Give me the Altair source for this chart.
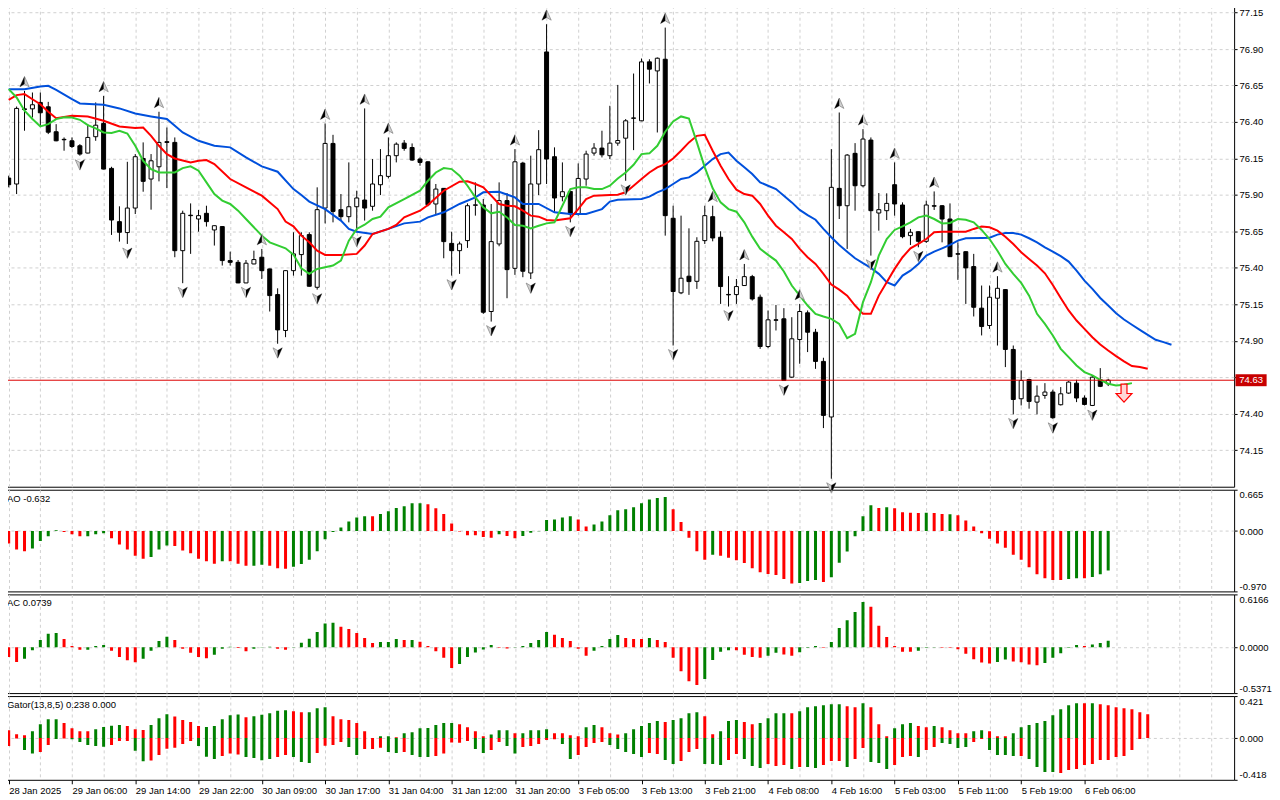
import json
import altair as alt
import pandas as pd

# ---------------- data ----------------
opens = [
76.016, 75.975, 76.490, 76.490, 76.534, 76.504, 76.333, 76.281, 76.271, 76.237,
76.187, 76.299, 76.390, 76.082, 75.717, 75.642, 75.810, 76.150, 76.009, 76.093,
76.265, 76.260, 75.518, 75.761, 75.735, 75.774, 75.660, 75.683, 75.450, 75.438,
75.297, 75.427, 75.473, 75.393, 75.217, 74.971, 75.381, 75.491, 75.628, 75.267,
75.810, 76.253, 75.799, 75.751, 75.819, 75.865, 75.822, 75.970, 76.027, 76.169,
76.255, 76.225, 76.146, 76.127, 75.838, 75.945, 75.568, 75.518, 75.587, 75.829,
75.831, 75.101, 75.564, 75.861, 75.397, 76.118, 75.365, 75.975, 76.880, 76.162,
75.888, 75.924, 75.769, 76.009, 76.187, 76.221, 76.169, 76.255, 76.289, 76.425,
76.408, 76.812, 76.750, 76.830, 75.740, 75.229, 75.343, 75.308, 75.587, 75.751,
75.610, 75.218, 75.217, 75.279, 75.340, 75.199, 74.861, 75.044, 75.051, 74.651,
74.909, 75.092, 74.959, 74.759, 74.378, 75.945, 75.826, 76.185, 75.963, 76.276,
75.776, 75.792, 75.970, 75.831, 75.621, 75.648, 75.582, 75.826, 75.826, 75.735,
75.497, 75.511, 75.409, 75.124, 75.005, 75.192, 75.251, 74.841, 74.503, 74.635,
74.480, 74.526, 74.549, 74.462, 74.542, 74.610, 74.508, 74.457, 74.633, 74.605]

highs = [
76.032, 76.506, 76.613, 76.602, 76.602, 76.538, 76.385, 76.294, 76.294, 76.248,
76.385, 76.534, 76.579, 76.093, 75.822, 76.127, 76.180, 76.260, 76.180, 76.470,
76.362, 76.294, 75.792, 75.842, 75.797, 75.826, 75.690, 75.686, 75.511, 75.454,
75.454, 75.518, 75.530, 75.395, 75.260, 75.383, 75.644, 75.644, 75.644, 75.952,
76.390, 76.312, 75.906, 76.123, 75.929, 76.493, 76.146, 76.214, 76.294, 76.260,
76.276, 76.253, 76.157, 76.130, 75.975, 75.947, 75.648, 75.580, 75.842, 75.986,
75.872, 75.838, 75.986, 75.913, 76.214, 76.127, 76.169, 76.344, 77.070, 76.226,
76.123, 75.929, 76.116, 76.203, 76.255, 76.340, 76.511, 76.654, 76.420, 76.732,
76.835, 76.830, 76.842, 77.047, 75.826, 75.758, 75.671, 75.610, 75.826, 75.826,
75.651, 75.343, 75.324, 75.427, 75.352, 75.217, 75.108, 75.146, 75.124, 75.062,
75.153, 75.108, 74.982, 74.784, 76.214, 76.465, 76.180, 76.255, 76.351, 76.294,
75.913, 75.911, 76.123, 75.849, 75.667, 75.650, 75.861, 75.924, 75.830, 75.842,
75.575, 75.513, 75.496, 75.279, 75.279, 75.343, 75.255, 74.868, 74.697, 74.640,
74.594, 74.610, 74.565, 74.583, 74.624, 74.633, 74.526, 74.663, 74.713, 74.640]

lows = [
75.952, 75.906, 76.340, 76.431, 76.374, 76.317, 76.268, 76.203, 76.221, 76.169,
76.185, 76.271, 76.075, 75.626, 75.580, 75.564, 75.769, 75.922, 75.799, 75.993,
75.947, 75.473, 75.295, 75.496, 75.648, 75.683, 75.553, 75.416, 75.416, 75.295,
75.295, 75.425, 75.324, 75.101, 74.880, 74.925, 75.347, 75.347, 75.272, 75.251,
75.705, 75.712, 75.724, 75.712, 75.644, 75.724, 75.792, 75.899, 76.013, 76.123,
76.203, 76.134, 76.100, 75.822, 75.765, 75.466, 75.347, 75.359, 75.537, 75.758,
75.085, 75.032, 75.548, 75.192, 75.352, 75.336, 75.324, 75.899, 75.975, 75.785,
75.856, 75.712, 75.758, 75.963, 76.169, 76.157, 76.146, 76.237, 75.997, 76.207,
76.405, 76.664, 76.328, 75.621, 74.868, 75.220, 75.215, 75.256, 75.564, 75.582,
75.153, 75.135, 75.153, 75.277, 75.176, 74.845, 74.850, 74.971, 74.625, 74.645,
74.743, 74.823, 74.708, 74.302, 73.955, 75.735, 75.530, 75.792, 75.952, 75.484,
75.655, 75.728, 75.758, 75.603, 75.557, 75.541, 75.571, 75.797, 75.575, 75.475,
75.318, 75.153, 75.067, 74.937, 74.982, 74.868, 74.720, 74.396, 74.457, 74.435,
74.396, 74.503, 74.366, 74.457, 74.537, 74.480, 74.457, 74.453, 74.583, 74.590]

closes = [
75.970, 76.493, 76.485, 76.518, 76.463, 76.330, 76.271, 76.278, 76.232, 76.180,
76.294, 76.378, 76.077, 75.728, 75.644, 75.810, 76.162, 75.993, 76.134, 76.260,
76.260, 75.518, 75.774, 75.758, 75.758, 75.717, 75.689, 75.450, 75.438, 75.297,
75.432, 75.457, 75.381, 75.210, 74.975, 75.381, 75.496, 75.621, 75.274, 75.799,
76.253, 75.787, 75.751, 75.819, 75.879, 75.810, 75.975, 76.032, 76.169, 76.248,
76.219, 76.139, 76.123, 75.833, 75.940, 75.580, 75.518, 75.564, 75.826, 75.832,
75.096, 75.580, 75.861, 75.388, 76.127, 75.377, 75.975, 76.210, 76.146, 75.879,
75.922, 75.769, 76.013, 76.180, 76.221, 76.175, 76.255, 76.273, 76.408, 76.428,
76.812, 76.762, 76.837, 75.758, 75.238, 75.329, 75.306, 75.582, 75.758, 75.605,
75.272, 75.215, 75.272, 75.340, 75.187, 74.861, 75.044, 75.041, 74.628, 74.914,
75.101, 74.959, 74.759, 74.389, 75.952, 75.826, 76.173, 75.963, 76.283, 75.792,
75.799, 75.842, 75.838, 75.614, 75.644, 75.582, 75.831, 75.823, 75.735, 75.477,
75.494, 75.400, 75.130, 74.998, 75.199, 75.260, 74.841, 74.498, 74.628, 74.485,
74.521, 74.549, 74.373, 74.537, 74.617, 74.508, 74.464, 74.651, 74.588, 74.630]

# Alligator lines (bar index, price) - already shifted as drawn
jaw = [(0,76.625),(2,76.625),(4,76.643),(5,76.648),(6,76.620),(8,76.556),(9,76.527),(12,76.518),
(14,76.493),(16,76.458),(18,76.438),(20,76.420),(22,76.328),(24,76.271),(26,76.237),(28,76.226),
(30,76.157),(32,76.096),(34,76.059),(36,75.940),(37,75.899),(38,75.854),(40,75.803),(42,75.724),
(43,75.667),(44,75.648),(46,75.632),(48,75.667),(50,75.705),(52,75.717),(53,75.746),(55,75.781),
(57,75.838),(59,75.883),(60,75.918),(62,75.922),(64,75.883),(65,75.838),(67,75.838),(69,75.781),
(71,75.769),(73,75.769),(75,75.803),(76,75.854),(77,75.867),(80,75.872),(81,75.888),(82,75.918),
(83,75.940),(84,75.975),(85,76.009),(86,76.020),(87,76.054),(88,76.100),(89,76.146),(90,76.180),
(91,76.191),(92,76.134),(93,76.089),(94,76.043),(95,75.986),(96,75.963),(97,75.940),(98,75.895),
(99,75.849),(100,75.797),(101,75.762),(102,75.730),(103,75.667),(104,75.610),(105,75.557),(106,75.511),
(107,75.466),(108,75.432),(109,75.400),(110,75.359),(111,75.302),(112,75.279),(113,75.347),(114,75.381),
(115,75.427),(116,75.484),(117,75.511),(118,75.534),(119,75.557),(120,75.587),(121,75.603),(123,75.605),
(124,75.607),(125,75.628),(126,75.639),(127,75.639),(128,75.628),(129,75.603),(130,75.575),(131,75.541),
(132,75.511),(133,75.480),(134,75.443),(135,75.381),(136,75.313),(137,75.256),(138,75.194),(139,75.142),
(140,75.089),(141,75.046),(142,75.010),(143,74.975),(144,74.941),(145,74.907),(146,74.891),(147,74.873)]

teeth = [(0,76.552),(1,76.584),(2,76.591),(3,76.556),(4,76.522),(5,76.470),(6,76.426),(8,76.442),
(10,76.438),(12,76.408),(14,76.369),(16,76.358),(17,76.362),(18,76.305),(19,76.237),(20,76.180),
(21,76.150),(23,76.123),(24,76.134),(25,76.139),(26,76.111),(28,76.009),(30,75.952),(32,75.895),
(34,75.803),(35,75.717),(36,75.685),(37,75.621),(38,75.575),(39,75.518),(40,75.489),(42,75.489),
(44,75.496),(45,75.553),(46,75.632),(48,75.667),(49,75.694),(50,75.746),(52,75.792),(53,75.831),
(55,75.929),(57,75.991),(58,75.993),(59,75.975),(60,75.952),(61,75.895),(62,75.838),(63,75.826),
(64,75.822),(65,75.792),(66,75.758),(67,75.751),(68,75.728),(69,75.724),(71,75.740),(72,75.803),
(73,75.872),(74,75.895),(76,75.899),(77,75.902),(78,75.918),(79,75.963),(80,76.009),(81,76.054),
(82,76.089),(83,76.111),(84,76.150),(85,76.203),(86,76.260),(87,76.305),(88,76.312),(89,76.203),
(90,76.100),(91,76.009),(92,75.936),(93,75.906),(94,75.895),(95,75.838),(96,75.758),(97,75.689),
(98,75.644),(99,75.598),(100,75.530),(101,75.473),(102,75.427),(103,75.359),(104,75.286),(105,75.251),
(106,75.210),(107,75.142),(108,75.085),(109,75.085),(110,75.210),(111,75.302),(112,75.393),(113,75.473),
(114,75.534),(115,75.564),(116,75.598),(117,75.644),(118,75.648),(121,75.648),(122,75.667),(123,75.683),
(124,75.678),(125,75.655),(126,75.614),(127,75.564),(128,75.507),(129,75.461),(130,75.416),(131,75.363),
(132,75.283),(133,75.194),(134,75.108),(135,75.039),(136,74.982),(137,74.925),(138,74.875),(139,74.834),
(140,74.795),(141,74.759),(142,74.727),(143,74.720),(144,74.708)]

lips = [(0,76.625),(1,76.568),(2,76.477),(3,76.420),(4,76.369),(5,76.385),(6,76.420),(7,76.433),
(8,76.431),(9,76.415),(10,76.378),(11,76.356),(12,76.328),(13,76.324),(14,76.340),(15,76.321),
(16,76.237),(17,76.134),(18,76.077),(19,76.054),(21,76.054),(22,76.084),(23,76.096),(24,76.066),
(25,75.986),(26,75.906),(27,75.861),(28,75.838),(29,75.792),(30,75.735),(32,75.621),(33,75.575),
(35,75.534),(36,75.491),(37,75.397),(38,75.359),(39,75.393),(40,75.404),(41,75.416),(42,75.450),
(43,75.587),(44,75.667),(45,75.696),(46,75.735),(47,75.751),(48,75.815),(50,75.872),(52,75.929),
(53,75.997),(54,76.054),(55,76.084),(56,76.077),(57,76.032),(58,75.963),(59,75.883),(60,75.815),
(61,75.774),(62,75.785),(63,75.746),(64,75.694),(65,75.689),(66,75.671),(67,75.689),(68,75.705),
(69,75.712),(70,75.826),(71,75.940),(72,75.952),(73,75.952),(74,75.940),(75,75.940),(76,75.963),
(77,76.013),(78,76.054),(79,76.107),(80,76.180),(81,76.185),(82,76.237),(83,76.333),(84,76.404),
(85,76.438),(86,76.424),(87,76.260),(88,76.089),(89,75.945),(90,75.849),(91,75.803),(92,75.785),
(93,75.712),(94,75.614),(95,75.530),(96,75.489),(97,75.450),(98,75.375),(99,75.279),(100,75.210),
(101,75.142),(102,75.085),(103,75.067),(104,75.051),(105,75.016),(106,74.918),(107,74.948),(108,75.165),
(109,75.302),(110,75.484),(111,75.598),(112,75.660),(113,75.685),(114,75.712),(115,75.746),(116,75.758),
(117,75.735),(118,75.705),(119,75.708),(120,75.735),(121,75.730),(122,75.712),(123,75.660),(124,75.598),
(125,75.518),(126,75.427),(127,75.359),(128,75.297),(129,75.210),(130,75.085),(131,75.016),(132,74.937),
(133,74.845),(134,74.788),(135,74.731),(136,74.686),(137,74.663),(138,74.633),(139,74.606),(140,74.594),
(141,74.599),(142,74.610)]

fractal_up = [2, 12, 19, 32, 40, 45, 48, 64, 68, 83, 89, 93, 100, 105, 108, 112, 117, 125]
fractal_down = [9, 15, 22, 30, 34, 39, 44, 56, 61, 66, 71, 78, 84, 91, 98, 104, 109, 115, 127, 132, 137]

current_price = 74.63
sell_signal = (141, 74.542)

ao_values = [
-0.199, -0.297, -0.324, -0.28, -0.16, -0.084, 0.014, -0.014, -0.052, -0.084,
-0.084, -0.052, -0.035, -0.117, -0.215, -0.297, -0.395, -0.444, -0.417, -0.297,
-0.231, -0.24, -0.313, -0.357, -0.444, -0.487, -0.526, -0.487, -0.487, -0.526,
-0.558, -0.558, -0.542, -0.558, -0.596, -0.607, -0.575, -0.531, -0.46, -0.324,
-0.133, -0.014, 0.057, 0.155, 0.22, 0.237, 0.237, 0.275, 0.319, 0.373,
0.40, 0.449, 0.449, 0.433, 0.368, 0.275, 0.123, -0.005, -0.068, -0.068,
-0.095, -0.106, -0.052, -0.079, -0.117, -0.079, -0.025, -0.003, 0.177, 0.188,
0.22, 0.237, 0.188, 0.074, 0.106, 0.155, 0.253, 0.335, 0.351, 0.384,
0.449, 0.509, 0.531, 0.547, 0.351, 0.144, -0.106, -0.324, -0.46, -0.379,
-0.395, -0.428, -0.471, -0.515, -0.596, -0.662, -0.689, -0.705, -0.771, -0.842,
-0.836, -0.803, -0.787, -0.82, -0.743, -0.509, -0.33, -0.084, 0.237, 0.417,
0.373, 0.384, 0.368, 0.302, 0.295, 0.289, 0.293, 0.29, 0.275, 0.27,
0.253, 0.172, 0.073, -0.035, -0.123, -0.199, -0.27, -0.379, -0.46, -0.58,
-0.695, -0.76, -0.787, -0.787, -0.771, -0.76, -0.76, -0.738, -0.694, -0.632]
ao_colors = list("".join([
    "rrrggggrrr", "gggrrrrrgg", "grrrrrrgrr", "rggrrrgggg", "ggggggrggg",
    "gggrrrrrrr", "rrgrrggggg", "ggrrgggggg", "ggggrrrrrg", "rrrrrrrrrr",
    "gggrgggggg", "rgrrrrgrrg", "rrrrrrrrrr", "rrrrggrggg"]))

ac_values = [
-0.114, -0.173, -0.137, -0.035, 0.082, 0.157, 0.165, 0.094, 0.012, -0.031,
-0.031, 0.012, 0.024, -0.043, -0.114, -0.153, -0.176, -0.137, -0.043, 0.071,
0.122, 0.082, -0.02, -0.067, -0.114, -0.129, -0.09, -0.02, 0.005, -0.01,
-0.047, -0.02, 0.003, 0.004, -0.02, -0.03, 0.002, 0.051, 0.098, 0.176,
0.275, 0.286, 0.239, 0.212, 0.165, 0.106, 0.047, 0.059, 0.059, 0.094,
0.082, 0.082, 0.063, 0.012, -0.047, -0.125, -0.243, -0.196, -0.114, -0.063,
-0.027, 0.024, -0.008, -0.016, 0.002, 0.012, 0.047, 0.082, 0.176, 0.145,
0.106, 0.071, -0.02, -0.102, -0.043, 0.012, 0.094, 0.141, 0.106, 0.094,
0.094, 0.106, 0.082, 0.059, -0.125, -0.282, -0.4, -0.443, -0.373, -0.149,
-0.055, -0.035, -0.035, -0.09, -0.114, -0.125, -0.102, -0.067, -0.086, -0.102,
-0.059, -0.008, 0.012, -0.008, 0.059, 0.224, 0.314, 0.412, 0.529, 0.471,
0.251, 0.118, 0.012, -0.055, -0.055, -0.043, -0.008, 0.001, -0.008, -0.008,
-0.024, -0.078, -0.141, -0.18, -0.192, -0.173, -0.145, -0.169, -0.176, -0.204,
-0.212, -0.184, -0.125, -0.071, -0.008, 0.024, 0.012, 0.031, 0.047, 0.074]
ac_colors = list("".join([
    "rrgggggrrr", "gggrrrrggg", "grrrrrgggr", "rgggrrgggg", "ggrrrrrggg",
    "rgrrrrrggg", "ggrrgggggr", "rrrrggggrr", "rgrrrrrrgg", "ggrrrrggrr",
    "gggrgggggr", "rrrrrgggrr", "rrrrrggrrr", "rgggggrggg"]))

gator_up = [
0.078, 0.038, 0.028, 0.068, 0.139, 0.19, 0.19, 0.15, 0.099, 0.068,
0.068, 0.089, 0.112, 0.123, 0.13, 0.12, 0.089, 0.082, 0.13, 0.2,
0.24, 0.217, 0.18, 0.16, 0.12, 0.112, 0.12, 0.19, 0.23, 0.237,
0.21, 0.22, 0.233, 0.25, 0.274, 0.28, 0.27, 0.26, 0.26, 0.3,
0.31, 0.22, 0.19, 0.18, 0.15, 0.068, 0.002, 0.018, 0.018, 0.008,
0.048, 0.058, 0.099, 0.102, 0.13, 0.15, 0.15, 0.139, 0.109, 0.068,
0.018, 0.035, 0.078, 0.078, 0.048, 0.048, 0.078, 0.078, 0.089, 0.048,
0.048, 0.028, 0.018, 0.109, 0.13, 0.109, 0.048, 0.035, 0.048, 0.089,
0.12, 0.15, 0.17, 0.16, 0.18, 0.2, 0.25, 0.26, 0.22, 0.038,
0.068, 0.17, 0.18, 0.16, 0.139, 0.15, 0.2, 0.25, 0.25, 0.25,
0.27, 0.31, 0.32, 0.33, 0.34, 0.34, 0.32, 0.31, 0.35, 0.31,
0.139, 0.018, 0.099, 0.139, 0.15, 0.12, 0.109, 0.12, 0.109, 0.078,
0.048, 0.048, 0.068, 0.078, 0.068, 0.018, 0.018, 0.048, 0.109, 0.13,
0.15, 0.17, 0.23, 0.29, 0.33, 0.35, 0.35, 0.35, 0.34, 0.33,
0.31, 0.30, 0.29, 0.26, 0.238]
gator_up_colors = list("".join([
    "rrrggggrrr", "rggggrrrgg", "grrrrggggg", "rgggggrrgg", "grrrrrrggr",
    "gggggggrrr", "rgggrggggr", "rrrggrrrgg", "gggrggggrr", "gggrrggggr",
    "ggggggrrgr", "rrgggrrgrr", "rrggrrrggg", "ggggggrgrr", "rrrrr"]))

gator_down = [
-0.08, -0.005, -0.12, -0.154, -0.14, -0.07, -0.01, -0.005, -0.012, -0.04,
-0.07, -0.08, -0.087, -0.07, -0.03, -0.03, -0.127, -0.232, -0.225, -0.17,
-0.107, -0.097, -0.06, -0.03, -0.08, -0.188, -0.21, -0.18, -0.154, -0.164,
-0.19, -0.2, -0.221, -0.21, -0.19, -0.17, -0.19, -0.24, -0.25, -0.15,
-0.077, -0.07, -0.04, -0.09, -0.17, -0.11, -0.11, -0.097, -0.14, -0.15,
-0.14, -0.17, -0.19, -0.19, -0.18, -0.154, -0.043, -0.046, -0.03, -0.11,
-0.15, -0.12, -0.04, -0.08, -0.154, -0.09, -0.08, -0.06, -0.02, -0.012,
-0.06, -0.21, -0.17, -0.09, -0.05, -0.04, -0.07, -0.11, -0.14, -0.16,
-0.19, -0.15, -0.16, -0.22, -0.26, -0.23, -0.14, -0.11, -0.26, -0.26,
-0.27, -0.22, -0.16, -0.21, -0.28, -0.3, -0.26, -0.28, -0.27, -0.31,
-0.29, -0.29, -0.3, -0.27, -0.23, -0.23, -0.29, -0.21, -0.1, -0.24,
-0.25, -0.31, -0.27, -0.19, -0.18, -0.19, -0.12, -0.09, -0.05, -0.06,
-0.1, -0.09, -0.04, -0.01, -0.12, -0.17, -0.17, -0.18, -0.18, -0.21,
-0.29, -0.34, -0.34, -0.35, -0.32, -0.31, -0.27, -0.26, -0.22, -0.22,
-0.19, -0.18, -0.12, -0.01]
gator_down_colors = list("".join([
    "rrggrrgrgg", "gggrrrggrr", "rrrrgggrrr", "ggggrrgggr", "rrrggrrrgg",
    "rgggrrrrrg", "grrggrrrrr", "ggrrrrgggg", "grrggrrrgg", "grrgggrrrg",
    "rggrrrgrrg", "ggrrrgrrgg", "ggrrggggrg", "gggrrrrrrr", "rrrr"]))

time_labels = ["28 Jan 2025", "29 Jan 06:00", "29 Jan 14:00", "29 Jan 22:00", "30 Jan 09:00",
               "30 Jan 17:00", "31 Jan 04:00", "31 Jan 12:00", "31 Jan 20:00", "3 Feb 05:00",
               "3 Feb 13:00", "3 Feb 21:00", "4 Feb 08:00", "4 Feb 16:00", "5 Feb 03:00",
               "5 Feb 11:00", "5 Feb 19:00", "6 Feb 06:00"]
price_ticks = [74.15, 74.40, 74.65, 74.90, 75.15, 75.40, 75.65, 75.90, 76.15, 76.40, 76.65, 76.90, 77.15]

ao_title = "AO -0.632"
ac_title = "AC 0.0739"
gator_title = "Gator(13,8,5) 0.238 0.000"
ao_range = (-0.970, 0.665)
ac_range = (-0.5371, 0.6166)
gator_range = (-0.418, 0.421)

# ---------------- styling ----------------
FONT = "Liberation Sans"
FS = 9.5
GRID = "#d0d0d0"
GREEN = "#008000"
RED = "#ff0000"
W = 1235
X_DOMAIN = [-0.0875, 154.29]
GRID_X = list(range(0, 153, 4))
LABEL_STEP = 8

n = len(opens)
candles = pd.DataFrame({"i": range(n), "open": opens, "high": highs, "low": lows, "close": closes})


def x_enc(labels=False):
    if labels:
        last = (len(time_labels) - 1) * LABEL_STEP
        expr = ("datum.value % " + str(LABEL_STEP) + " == 0 && datum.value <= " + str(last) + " ? "
                + json.dumps(time_labels) + "[datum.value / " + str(LABEL_STEP) + "] : ''")
        axis = alt.Axis(values=GRID_X, grid=True, gridColor=GRID, gridDash=[3, 3], domain=False,
                        labels=True, labelExpr=expr, labelAlign="left", labelBaseline="top",
                        labelPadding=2, labelFlush=False, labelOverlap=False, labelBound=False,
                        ticks=True, tickSize=4, tickColor="black",
                        tickOpacity={"condition": {"test": "datum.value % " + str(LABEL_STEP) + " != 0 || datum.value > " + str(last), "value": 0}, "value": 1},
                        title=None)
    else:
        axis = alt.Axis(values=GRID_X, grid=True, gridColor=GRID, gridDash=[3, 3], domain=False,
                        labels=False, ticks=False, title=None)
    return alt.X("i:Q", scale=alt.Scale(domain=X_DOMAIN, nice=False, zero=False), axis=axis)


main_scale = alt.Scale(domain=[73.90, 77.20], nice=False, zero=False)
main_axis = alt.Axis(orient="right", values=price_ticks, format=".2f",
                     labelExpr="datum.value == 74.65 ? '' : datum.label",
                     grid=True, gridColor=GRID, gridDash=[3, 3], domain=False,
                     tickSize=3, tickColor="black", labelPadding=2, title=None)


def ymain(field):
    return alt.Y(field + ":Q", scale=main_scale, axis=main_axis)


wicks = alt.Chart(candles).mark_rule(color="black", strokeWidth=1, clip=True).encode(
    x=x_enc(), y=ymain("low"), y2="high")
bodies = alt.Chart(candles).mark_bar(size=4, stroke="black", strokeWidth=1, clip=True).encode(
    x=x_enc(), y=ymain("open"), y2="close",
    fill=alt.condition("datum.close >= datum.open", alt.value("white"), alt.value("black")))


def line_layer(pairs, color):
    df = pd.DataFrame(pairs, columns=["i", "p"])
    return alt.Chart(df).mark_line(color=color, strokeWidth=2, clip=True).encode(x=x_enc(), y=ymain("p"))


jaw_l = line_layer(jaw, "#0050dc")
teeth_l = line_layer(teeth, "#ff0000")
lips_l = line_layer(lips, "#32cd32")

price_line = alt.Chart(pd.DataFrame({"p": [current_price]})).mark_rule(
    color="#dd0000", strokeWidth=1).encode(y=ymain("p"))

UP_FULL = "M0,-1L0.85,0.9L0,0.4L-0.85,0.9Z"
UP_HALF = "M0,-1L0,0.4L-0.85,0.9Z"
DN_FULL = "M0,1L0.85,-0.9L0,-0.4L-0.85,-0.9Z"
DN_HALF = "M0,1L0,-0.4L0.85,-0.9Z"
SELL = "M-0.33,-1L0.33,-1L0.33,0.05L0.88,0.05L0,1L-0.88,0.05L-0.33,0.05Z"
BOX = "M-2.6,-1L2.6,-1L2.6,1L-2.6,1Z"

up_df = pd.DataFrame({"i": fractal_up, "p": [highs[k] for k in fractal_up]})
dn_df = pd.DataFrame({"i": fractal_down, "p": [lows[k] for k in fractal_down]})
FR_SIZE = 120
up_a = alt.Chart(up_df).mark_point(shape=UP_FULL, filled=True, fill="#d0d0d0", stroke="#808080",
                                   strokeWidth=0.7, size=FR_SIZE, opacity=1, yOffset=-9).encode(x=x_enc(), y=ymain("p"))
up_b = alt.Chart(up_df).mark_point(shape=UP_HALF, filled=True, color="black", size=FR_SIZE,
                                   opacity=1, yOffset=-9).encode(x=x_enc(), y=ymain("p"))
dn_a = alt.Chart(dn_df).mark_point(shape=DN_FULL, filled=True, fill="#d0d0d0", stroke="#808080",
                                   strokeWidth=0.7, size=FR_SIZE, opacity=1, yOffset=9).encode(x=x_enc(), y=ymain("p"))
dn_b = alt.Chart(dn_df).mark_point(shape=DN_HALF, filled=True, color="black", size=FR_SIZE,
                                   opacity=1, yOffset=9).encode(x=x_enc(), y=ymain("p"))

sell_df = pd.DataFrame({"i": [sell_signal[0]], "p": [sell_signal[1]]})
sell = alt.Chart(sell_df).mark_point(shape=SELL, filled=True, fill="#ffd6d6", stroke="#ff0000",
                                     strokeWidth=1.2, size=324, opacity=1).encode(x=x_enc(), y=ymain("p"))

cp_df = pd.DataFrame({"p": [current_price], "t": ["%.2f" % current_price]})
cp_box = alt.Chart(cp_df).mark_point(shape=BOX, filled=True, color="#c80000", size=144, opacity=1).encode(
    x=alt.value(W + 17), y=ymain("p"))
cp_txt = alt.Chart(cp_df).mark_text(color="white", font=FONT, fontSize=FS, align="center",
                                    baseline="middle").encode(x=alt.value(W + 17), y=ymain("p"), text="t:N")

main = alt.layer(wicks, bodies, jaw_l, teeth_l, lips_l, price_line, up_a, up_b, dn_a, dn_b,
                 sell, cp_box, cp_txt).properties(width=W, height=483)


def ind_panel(values_list, colors, rng, fmt, title, height, extra=None, labels=False):
    lo, hi = rng
    yax = alt.Axis(orient="right", values=[hi, 0, lo], format=fmt,
                   labelExpr="replace(datum.label, '\u2212', '-')", labelFlush=True,
                   grid=True, gridColor=GRID, gridDash=[3, 3],
                   gridOpacity={"condition": {"test": "datum.value != 0", "value": 0}, "value": 1},
                   domain=False, tickSize=3, tickColor="black", labelPadding=2, title=None)
    yenc = alt.Y("v:Q", scale=alt.Scale(domain=[lo, hi], nice=False, zero=False), axis=yax)
    cscale = alt.Scale(domain=["g", "r"], range=[GREEN, RED])
    layers = []
    series = [(values_list, colors)] + ([extra] if extra else [])
    for vals, cols in series:
        df = pd.DataFrame({"i": range(len(vals)), "v": vals, "c": cols[:len(vals)]})
        layers.append(alt.Chart(df).mark_bar(size=3, clip=True).encode(
            x=x_enc(labels), y=yenc, y2=alt.datum(0),
            color=alt.Color("c:N", scale=cscale, legend=None)))
    ttl = alt.Chart(pd.DataFrame({"t": [title]})).mark_text(
        align="left", baseline="middle", font=FONT, fontSize=FS, color="black").encode(
        x=alt.value(4), y=alt.value(9), text="t:N")
    layers.append(ttl)
    return alt.layer(*layers).properties(width=W, height=height)


ao = ind_panel(ao_values, ao_colors, ao_range, ".3f", ao_title, 102)
ac = ind_panel(ac_values, ac_colors, ac_range, ".4f", ac_title, 99)
gator = ind_panel(gator_up, gator_up_colors, gator_range, ".3f", gator_title, 84,
                  extra=(gator_down, gator_down_colors), labels=True)

chart = alt.vconcat(main, ao, ac, gator, spacing=3, bounds="flush").properties(
    padding={"left": -6, "top": -5, "right": 0, "bottom": 0}, background="white"
).configure_view(stroke="black", strokeWidth=1).configure_axis(
    labelFont=FONT, labelFontSize=FS, labelColor="black")

chart.save("out.html", embed_options={"renderer": "svg", "actions": False})
